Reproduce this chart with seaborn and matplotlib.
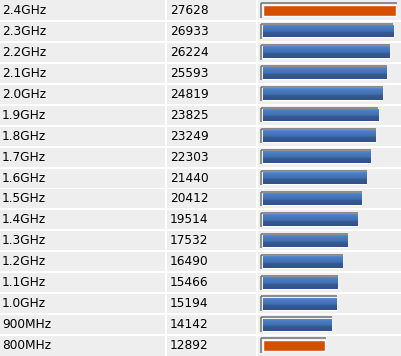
import numpy as np
import matplotlib
matplotlib.use("Agg")
import matplotlib.pyplot as plt
import matplotlib.transforms as mtransforms
from matplotlib.colors import LinearSegmentedColormap
from matplotlib.patches import Rectangle
import seaborn as sns

# clock speed vs benchmark score
labels = ["2.4GHz", "2.3GHz", "2.2GHz", "2.1GHz", "2.0GHz", "1.9GHz", "1.8GHz",
          "1.7GHz", "1.6GHz", "1.5GHz", "1.4GHz", "1.3GHz", "1.2GHz", "1.1GHz",
          "1.0GHz", "900MHz", "800MHz"]
scores = [27628, 26933, 26224, 25593, 24819, 23825, 23249, 22303, 21440,
          20412, 19514, 17532, 16490, 15466, 15194, 14142, 12892]
highlight = ["2.4GHz", "800MHz"]

ORANGE = "#d54f00"
BLUE = "#3d68a8"
ROW_BG = "#eeeeee"
FRAME = "#707070"

W, H = 401, 356
sns.set_style("white")
plt.rcParams["font.family"] = ["DejaVu Sans"]

fig = plt.figure(figsize=(W / 100, H / 100), dpi=100)
fig.patch.set_facecolor("white")
ax = fig.add_axes([0, 0, 1, 1])

n = len(labels)
bar_start = 262.5          # pixel where score 0 sits
bar_full = 396.0           # pixel where the top score ends
upp = max(scores) / (bar_full - bar_start)   # score units per pixel

palette = {lab: (ORANGE if lab in highlight else BLUE) for lab in labels}
sns.barplot(x=scores, y=labels, hue=labels, palette=palette, legend=False,
            orient="h", width=0.57, saturation=1, ax=ax, zorder=3)

xlim = (-bar_start * upp, (W - bar_start) * upp)
ylim = (n - 0.5, -0.5)
ax.set_xlim(xlim)
ax.set_ylim(ylim)
ax.set_axis_off()

# row backgrounds: x in pixels (figure fraction), y in category units
trans = mtransforms.blended_transform_factory(fig.transFigure, ax.transData)
row_px = H / n
half = 9.5 / row_px
columns = [(0, 165), (167, 256), (258, W)]
for i in range(n):
    top = i - half if i > 0 else -0.6
    bottom = i + half if i < n - 1 else n - 0.4
    for c0, c1 in columns:
        ax.add_patch(Rectangle((c0 / W, top), (c1 - c0) / W, bottom - top,
                               transform=trans, facecolor=ROW_BG,
                               edgecolor="none", zorder=0))
    ax.text(2 / W, i, labels[i], transform=trans, va="center", ha="left",
            fontsize=8.7, color="black", zorder=5)
    ax.text(170 / W, i, str(scores[i]), transform=trans, va="center",
            ha="left", fontsize=8.7, color="black", zorder=5)

# gradient fill for the blue bars + bevel frame on all bars
blue_cmap = LinearSegmentedColormap.from_list(
    "bev", [(0.0, "#5b8bd0"), (0.15, "#4a7cc2"), (0.5, "#4170b3"),
            (0.62, "#36598f"), (1.0, "#31528a")])
grad = np.linspace(0, 1, 64).reshape(-1, 1)
dx = 1.2 * upp
dy = 1.2 / row_px
for cont, lab in zip(ax.containers, labels):
    for p in cont:
        x0, y0 = p.get_x(), p.get_y()
        w, h = p.get_width(), p.get_height()
        if lab not in highlight:
            im = ax.imshow(grad, extent=[x0, x0 + w, y0 + h, y0], cmap=blue_cmap,
                           aspect="auto", origin="upper", zorder=3.5,
                           interpolation="bilinear")
            im.set_clip_path(p)
        ax.plot([x0 - dx, x0 + w + dx * 0.6], [y0 - dy, y0 - dy], color=FRAME,
                lw=1.1, solid_capstyle="butt", zorder=4)
        ax.plot([x0 - dx, x0 - dx], [y0 - dy, y0 + h + dy], color=FRAME,
                lw=1.1, solid_capstyle="butt", zorder=4)

ax.set_xlim(xlim)
ax.set_ylim(ylim)

fig.savefig("out.png", dpi=100, facecolor="white")
